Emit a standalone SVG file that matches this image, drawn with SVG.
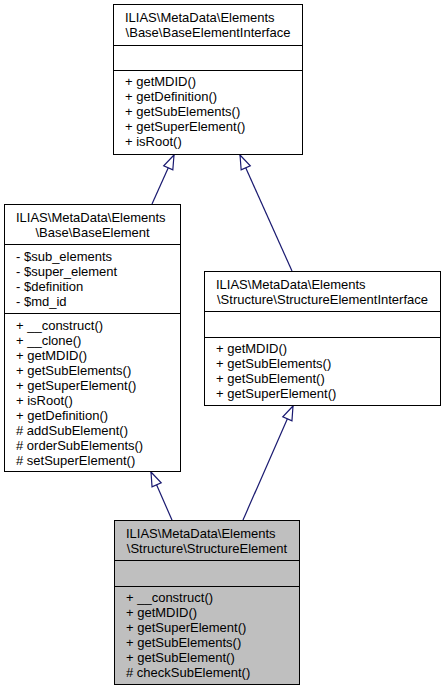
<svg xmlns="http://www.w3.org/2000/svg" width="445" height="691" viewBox="0 0 445 691">
<style>
.t{font-family:"Liberation Sans",Arial,Helvetica,sans-serif;font-size:13px;fill:#000}
.m{text-anchor:middle}
.box{fill:#fff;stroke:#000;stroke-width:1}
.cur{fill:#bfbfbf;stroke:#000;stroke-width:1}
.sep{stroke:#000;stroke-width:1}
.e{stroke:#191970;stroke-width:1.2;fill:none}
</style>
<defs>
<marker id="inh" markerUnits="userSpaceOnUse" markerWidth="18" markerHeight="14" viewBox="-1 -7 17 14" refX="0" refY="0" orient="auto">
<path d="M0,0 L14,-5 L14,5 Z" fill="#fff" stroke="#191970" stroke-width="1.2"/>
</marker>
</defs>
<rect width="445" height="691" fill="#fff"/>
<g id="connectors">
<line class="e" x1="174" y1="155" x2="152" y2="204" marker-start="url(#inh)"/>
<line class="e" x1="240" y1="155" x2="292" y2="271" marker-start="url(#inh)"/>
<line class="e" x1="151" y1="472" x2="172" y2="520" marker-start="url(#inh)"/>
<line class="e" x1="293" y1="406" x2="243" y2="520" marker-start="url(#inh)"/>
</g>
<g id="BaseElementInterface">
<rect class="box" x="113.5" y="4.5" width="189" height="150"/>
<line class="sep" x1="113.5" y1="45.5" x2="302.5" y2="45.5"/>
<line class="sep" x1="113.5" y1="70.5" x2="302.5" y2="70.5"/>
<text class="t" x="125" y="21.5">ILIAS\MetaData\Elements</text>
<text class="t m" x="208" y="36.5">\Base\BaseElementInterface</text>
<text class="t" x="125" y="86">+ getMDID()</text>
<text class="t" x="125" y="101">+ getDefinition()</text>
<text class="t" x="125" y="116">+ getSubElements()</text>
<text class="t" x="125" y="131">+ getSuperElement()</text>
<text class="t" x="125" y="146">+ isRoot()</text>
</g>
<g id="BaseElement">
<rect class="box" x="4.5" y="204.5" width="176" height="267"/>
<line class="sep" x1="4.5" y1="244.5" x2="180.5" y2="244.5"/>
<line class="sep" x1="4.5" y1="313.5" x2="180.5" y2="313.5"/>
<text class="t" x="16" y="221.5">ILIAS\MetaData\Elements</text>
<text class="t m" x="92.5" y="236.5">\Base\BaseElement</text>
<text class="t" x="16" y="261">- $sub_elements</text>
<text class="t" x="16" y="276">- $super_element</text>
<text class="t" x="16" y="291">- $definition</text>
<text class="t" x="16" y="306">- $md_id</text>
<text class="t" x="16" y="330">+ __construct()</text>
<text class="t" x="16" y="345">+ __clone()</text>
<text class="t" x="16" y="360">+ getMDID()</text>
<text class="t" x="16" y="375">+ getSubElements()</text>
<text class="t" x="16" y="390">+ getSuperElement()</text>
<text class="t" x="16" y="405">+ isRoot()</text>
<text class="t" x="16" y="420">+ getDefinition()</text>
<text class="t" x="16" y="435"># addSubElement()</text>
<text class="t" x="16" y="450"># orderSubElements()</text>
<text class="t" x="16" y="465"># setSuperElement()</text>
</g>
<g id="StructureElementInterface">
<rect class="box" x="204.5" y="271.5" width="236" height="134"/>
<line class="sep" x1="204.5" y1="311.5" x2="440.5" y2="311.5"/>
<line class="sep" x1="204.5" y1="337.5" x2="440.5" y2="337.5"/>
<text class="t" x="216" y="288.5">ILIAS\MetaData\Elements</text>
<text class="t m" x="322.5" y="303.5">\Structure\StructureElementInterface</text>
<text class="t" x="216" y="353">+ getMDID()</text>
<text class="t" x="216" y="368">+ getSubElements()</text>
<text class="t" x="216" y="383">+ getSubElement()</text>
<text class="t" x="216" y="398">+ getSuperElement()</text>
</g>
<g id="StructureElement">
<rect class="cur" x="114.5" y="520.5" width="185" height="164"/>
<line class="sep" x1="114.5" y1="560.5" x2="299.5" y2="560.5"/>
<line class="sep" x1="114.5" y1="586.5" x2="299.5" y2="586.5"/>
<text class="t" x="126" y="537.5">ILIAS\MetaData\Elements</text>
<text class="t m" x="207" y="552.5">\Structure\StructureElement</text>
<text class="t" x="126" y="602">+ __construct()</text>
<text class="t" x="126" y="617">+ getMDID()</text>
<text class="t" x="126" y="632">+ getSuperElement()</text>
<text class="t" x="126" y="647">+ getSubElements()</text>
<text class="t" x="126" y="662">+ getSubElement()</text>
<text class="t" x="126" y="677"># checkSubElement()</text>
</g>
</svg>
